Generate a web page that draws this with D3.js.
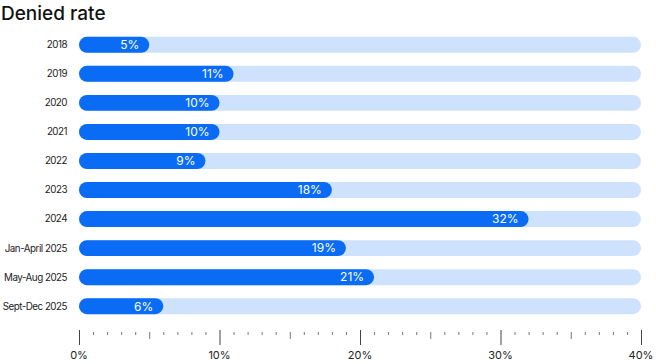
<!DOCTYPE html>
<html lang="en">
<head>
<meta charset="UTF-8">
<script src="https://cdn.jsdelivr.net/npm/d3@7"></script>
<style>
  body { margin: 0; background: #fff; font-family: Inter, "Noto Sans", sans-serif; }
  .title { font-size: 19px; font-weight: 500; fill: #111; }
  .cat { font-size: 9.8px; fill: #222; letter-spacing: -0.5px; }
  .val { font-size: 12px; fill: #fff; }
  .tickLabel { font-size: 11px; fill: #222; }
</style>
</head>
<body>
<div id="chart"></div>
<script>
  const categories = ['2018', '2019', '2020', '2021', '2022', '2023', '2024',
    'Jan-April 2025', 'May-Aug 2025', 'Sept-Dec 2025'];
  const values = [5, 11, 10, 10, 9, 18, 32, 19, 21, 6];
  const tickLabels = ['0%', '10%', '20%', '30%', '40%'];

  const W = 656, H = 364;
  const margin = { top: 31, right: 15, bottom: 46, left: 79 };

  const svg = d3.select('#chart').append('svg')
    .attr('width', W)
    .attr('height', H);

  svg.append('text')
    .attr('class', 'title')
    .attr('x', 1)
    .attr('y', 20)
    .text('Denied rate');

  const x = d3.scaleLinear()
    .domain([0, 40])
    .range([margin.left, W - margin.right]);

  const y = d3.scaleBand()
    .domain(categories)
    .range([margin.top, 320])
    .paddingInner(0.45)
    .paddingOuter(0.2);

  const bh = y.bandwidth();

  const rows = svg.selectAll('g.row')
    .data(categories)
    .enter()
    .append('g')
    .attr('class', 'row')
    .attr('transform', d => `translate(0,${y(d)})`);

  // background track
  rows.append('rect')
    .attr('x', x(0))
    .attr('width', x(40) - x(0))
    .attr('height', bh)
    .attr('rx', bh / 2)
    .attr('fill', '#cfe2fd');

  rows.append('rect')
    .attr('x', x(0))
    .attr('width', (d, i) => x(values[i]) - x(0))
    .attr('height', bh)
    .attr('rx', bh / 2)
    .attr('fill', '#0a6cf4');

  rows.append('text')
    .attr('class', 'cat')
    .attr('x', 67)
    .attr('y', bh / 2)
    .attr('dy', '0.35em')
    .attr('text-anchor', 'end')
    .text(d => d);

  rows.append('text')
    .attr('class', 'val')
    .attr('x', (d, i) => x(values[i]) - 10)
    .attr('y', bh / 2)
    .attr('dy', '0.36em')
    .attr('text-anchor', 'end')
    .text((d, i) => values[i] + '%');

  // axis ticks every 1%
  const axisY = 331;
  const ticks = d3.range(0, 41);
  svg.selectAll('line.tick')
    .data(ticks)
    .enter()
    .append('line')
    .attr('x1', d => x(d) + 0.5)
    .attr('x2', d => x(d) + 0.5)
    .attr('y1', d => d % 10 === 0 ? axisY - 1 : axisY + 1)
    .attr('y2', d => d % 10 === 0 ? axisY + 14 : (d % 5 === 0 ? axisY + 8 : axisY + 4))
    .attr('stroke', d => d % 10 === 0 ? '#444' : '#777')
    .attr('stroke-width', 1);

  svg.selectAll('text.tickLabel')
    .data(tickLabels)
    .enter()
    .append('text')
    .attr('class', 'tickLabel')
    .attr('x', (d, i) => x(i * 10))
    .attr('y', 359)
    .attr('text-anchor', 'middle')
    .text(d => d);
</script>
</body>
</html>
